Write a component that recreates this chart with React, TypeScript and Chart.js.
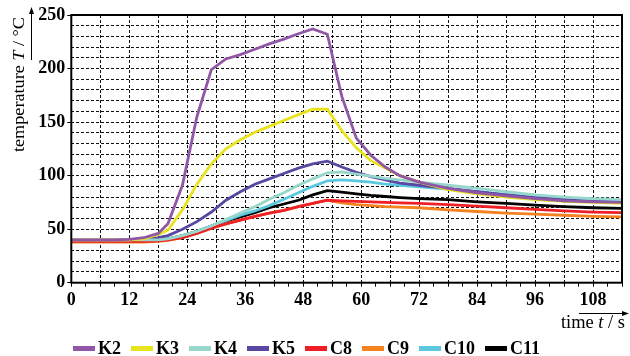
import React, { useEffect, useRef } from "react";
import { Chart, registerables } from "chart.js";

Chart.register(...registerables);

const seriesNames = ["K2", "K3", "K4", "K5", "C8", "C9", "C10", "C11"];
const seriesColors = ["#9157A7", "#E8E31C", "#96D6CB", "#5947A1", "#EE1F27", "#F5811F", "#5CC8E0", "#000000"];

const times = [0, 3, 6, 9, 12, 15, 18, 20, 23, 26, 29, 32, 35, 38, 41, 44, 47, 50, 53, 56, 59, 62, 65, 68, 72, 78, 84, 90, 96, 102, 108, 114];

const k2 = [40, 40, 40, 40, 40.5, 42, 46, 55, 91, 155, 199, 209, 213, 218, 223, 227.5, 232.5, 237, 232, 174, 135, 119, 108, 100, 94, 88, 84, 81, 78.5, 76.5, 75.5, 75];
const k3 = [40, 40, 40, 40, 40, 41, 45, 49, 68, 92, 111, 125, 133.5, 140.5, 146, 151.5, 157, 162, 162, 142, 126, 114, 107, 100, 94, 87, 83, 80, 77.5, 76, 75, 74];
const k4 = [40, 40, 40, 40, 40, 40, 40, 41, 44, 48, 53, 59, 65, 71, 78, 84, 91, 97, 102.5, 103.5, 101.5, 99.5, 97.5, 96, 94, 91, 88, 85, 82, 80, 78.5, 77.5];
const k5 = [40, 40, 40, 40, 40, 40.5, 42, 44, 50, 57, 66, 77, 85, 92, 97, 102, 107, 111, 113.5, 108, 103, 99, 96, 93, 91, 88, 85, 82, 79.5, 77.5, 76, 75];
const c8 = [38.5, 38.5, 38.5, 38.5, 38.5, 38.5, 39, 40, 42, 46, 51, 55, 58.5, 62, 65, 67.5, 71, 74, 77, 76.5, 76, 75.5, 75, 74.5, 74, 73, 71.5, 70, 68.5, 67, 66, 65.5];
const c9 = [38, 38, 38, 38, 38, 38, 38.5, 39.5, 42, 46, 51, 55, 58.5, 62, 65, 67.5, 71, 74, 77, 74.5, 73, 72, 71, 70.5, 70, 68, 66.5, 65, 64, 63, 62, 61.5];
const c10 = [40, 40, 40, 40, 40, 40, 40, 41, 44, 48, 53, 58, 63, 67, 72, 78, 84, 90, 95, 96, 95, 94, 92, 91, 89.5, 87.5, 85, 82.5, 80, 78, 77, 76];
const c11 = [39.5, 39.5, 39.5, 39.5, 39.5, 39.5, 40, 41, 44, 48, 53, 57.5, 61.5, 65.5, 70, 73.5, 77, 82, 86, 84.5, 83, 81.5, 80.5, 79.5, 78.5, 77.5, 75.5, 74, 72.5, 71, 70, 69.5];

const seriesValues = [k2, k3, k4, k5, c8, c9, c10, c11];

const xMajorLabels = [0, 12, 24, 36, 48, 60, 72, 84, 96, 108];
const yMajorLabels = [0, 50, 100, 150, 200, 250];

const SERIF = "'Liberation Serif', 'Times New Roman', serif";

export default function App() {
  const ref = useRef<HTMLCanvasElement>(null);

  useEffect(() => {
    document.body.style.margin = "0";
    const canvas = ref.current!;
    const datasets = seriesNames.map((name, i) => ({
      label: name,
      data: times.map((t, j) => ({ x: t, y: seriesValues[i][j] })),
      borderColor: seriesColors[i],
      backgroundColor: seriesColors[i],
      borderWidth: 2.8,
      pointRadius: 0,
      tension: 0,
    }));

    const drawParts = (ctx: CanvasRenderingContext2D, parts: [string, string][], size: number, x: number, y: number, sx: number) => {
      let cx = x;
      for (const [txt, style] of parts) {
        ctx.font = `${style} ${size}px ${SERIF}`;
        ctx.fillText(txt, cx / sx, y);
        cx += ctx.measureText(txt).width * sx;
      }
    };
    const measureParts = (ctx: CanvasRenderingContext2D, parts: [string, string][], size: number) => {
      let w = 0;
      for (const [txt, style] of parts) {
        ctx.font = `${style} ${size}px ${SERIF}`;
        w += ctx.measureText(txt).width;
      }
      return w;
    };

    const decor = {
      id: "decor",
      afterDatasetsDraw(chart: any) {
        const { ctx, chartArea: a } = chart;
        ctx.save();
        ctx.strokeStyle = "#000";
        ctx.lineWidth = 2;
        ctx.setLineDash([]);
        ctx.strokeRect(a.left, a.top, a.right - a.left, a.bottom - a.top);
        ctx.restore();
      },
      afterDraw(chart: any) {
        const ctx: CanvasRenderingContext2D = chart.ctx;
        ctx.save();
        ctx.fillStyle = "#000";
        ctx.strokeStyle = "#000";
        ctx.textBaseline = "alphabetic";
        ctx.textAlign = "left";

        // Y axis title (rotated)
        const yParts: [string, string][] = [["temperature ", "normal"], ["T", "italic"], [" / °C", "normal"]];
        const ySize = 16;
        const yW = measureParts(ctx, yParts, ySize);
        const ySx = 135 / yW;
        ctx.save();
        ctx.translate(24, 152);
        ctx.rotate(-Math.PI / 2);
        ctx.scale(ySx, 1);
        drawParts(ctx, yParts, ySize, 0, 0, ySx);
        ctx.restore();

        // Y arrow
        ctx.lineWidth = 1;
        ctx.beginPath();
        ctx.moveTo(31.5, 60);
        ctx.lineTo(31.5, 12);
        ctx.stroke();
        ctx.beginPath();
        ctx.moveTo(31.5, 7);
        ctx.lineTo(29, 14);
        ctx.lineTo(34, 14);
        ctx.closePath();
        ctx.fill();

        // X axis title
        const xParts: [string, string][] = [["time ", "normal"], ["t", "italic"], [" / s", "normal"]];
        const xSize = 18;
        const xW = measureParts(ctx, xParts, xSize);
        const xSx = 64 / xW;
        ctx.save();
        ctx.scale(xSx, 1);
        drawParts(ctx, xParts, xSize, 561, 328, xSx);
        ctx.restore();

        // X arrow
        ctx.beginPath();
        ctx.moveTo(579, 313.5);
        ctx.lineTo(624, 313.5);
        ctx.stroke();
        ctx.beginPath();
        ctx.moveTo(629, 313.5);
        ctx.lineTo(622, 311);
        ctx.lineTo(622, 316);
        ctx.closePath();
        ctx.fill();

        // Legend
        const ds = chart.data.datasets;
        ctx.font = `bold 18px ${SERIF}`;
        const boxW = 22, boxGap = 3, itemGap = 10;
        let total = 0;
        ds.forEach((d: any, i: number) => {
          total += boxW + boxGap + ctx.measureText(d.label).width + (i < ds.length - 1 ? itemGap : 0);
        });
        let lx = 306.5 - total / 2;
        ds.forEach((d: any) => {
          ctx.fillStyle = d.borderColor;
          ctx.fillRect(lx, 346, boxW, 5);
          lx += boxW + boxGap;
          ctx.fillStyle = "#000";
          ctx.fillText(d.label, lx, 354);
          lx += ctx.measureText(d.label).width + itemGap;
        });
        ctx.restore();
      },
    };

    const tickFont = { family: SERIF, size: 18, weight: "bold" as const };

    const chart = new Chart(canvas, {
      type: "line",
      data: { datasets: datasets as any },
      options: {
        responsive: false,
        animation: false,
        layout: { padding: { top: 15, right: 8, left: 0, bottom: 0 } },
        plugins: { legend: { display: false }, tooltip: { enabled: false } },
        scales: {
          x: {
            type: "linear",
            min: 0,
            max: 114,
            ticks: {
              stepSize: 3,
              autoSkip: false,
              maxRotation: 0,
              color: "#000",
              font: tickFont,
              padding: 3,
              callback: (v: any) => (xMajorLabels.includes(Number(v)) ? String(v) : ""),
            },
            grid: {
              color: (c: any) => (c.tick && c.tick.value % 6 === 0 ? "#111" : "rgba(0,0,0,0)"),
              tickColor: "#000",
              tickLength: 4,
              lineWidth: 1,
            },
            border: { display: false, dash: [3, 2] },
            afterFit: (s: any) => {
              s.height = 73.3;
            },
          },
          y: {
            type: "linear",
            min: 0,
            max: 250,
            ticks: {
              stepSize: 10,
              autoSkip: false,
              color: "#000",
              font: tickFont,
              padding: 2,
              callback: (v: any) => (yMajorLabels.includes(Number(v)) ? String(v) : ""),
            },
            grid: {
              color: "#111",
              tickColor: (c: any) => (c.tick && c.tick.value % 50 === 0 ? "#000" : "rgba(0,0,0,0)"),
              tickLength: 4,
              lineWidth: 1,
            },
            border: { display: false, dash: [3, 2] },
            afterFit: (s: any) => {
              s.width = 71.3;
            },
          },
        },
      },
      plugins: [decor],
    });
    return () => chart.destroy();
  }, []);

  return (
    <div style={{ width: 630, height: 356 }}>
      <canvas ref={ref} width={630} height={356} />
    </div>
  );
}
